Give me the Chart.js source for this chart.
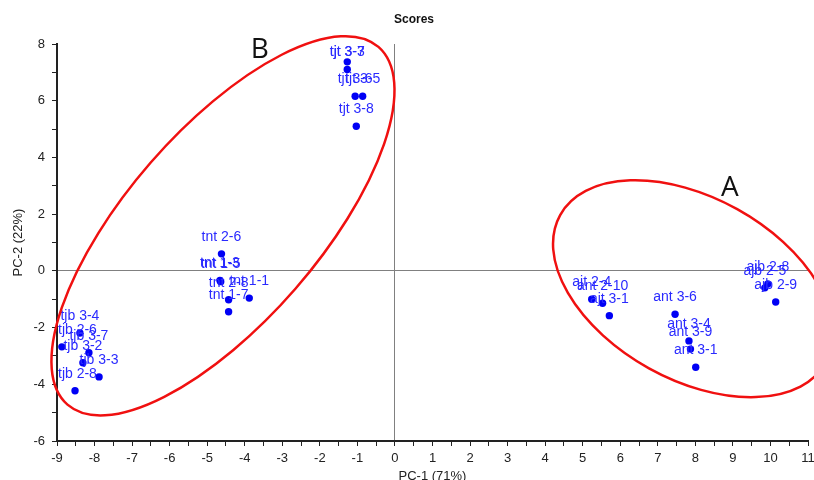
<!DOCTYPE html>
<html lang="pt-BR">
<head>
<meta charset="utf-8">
<title>Scores</title>
<script src="https://cdn.jsdelivr.net/npm/chart.js@4.4.1/dist/chart.umd.min.js"></script>
<style>
  html, body { margin: 0; padding: 0; background: #fff; overflow: hidden; width: 814px; height: 480px; }
  canvas { display: block; }
</style>
</head>
<body>
<canvas id="graficoScores" width="830" height="490"></canvas>
<script>
// amostras e scores (PC-1, PC-2)
const nomesTjt = ['tjt 3-3', 'tjt 3-7', 'tjt 3-6', 'tjt 3-5', 'tjt 3-8'];
const pc1Tjt = [-1.27, -1.27, -1.06, -0.86, -1.03];
const pc2Tjt = [7.37, 7.10, 6.16, 6.16, 5.10];

const nomesTnt = ['tnt 2-6', 'tnt 1-3', 'tnt 1-5', 'tnt 2-8', 'tnt 1-1', 'tnt 1-7'];
const pc1Tnt = [-4.62, -4.66, -4.64, -4.43, -3.88, -4.43];
const pc2Tnt = [0.60, -0.34, -0.38, -1.02, -0.96, -1.44];

const nomesTjb = ['tjb 3-4', 'tjb 2-6', 'tjb 3-7', 'tjb 3-2', 'tjb 3-3', 'tjb 2-8'];
const pc1Tjb = [-8.39, -8.87, -8.15, -8.31, -7.88, -8.52];
const pc2Tjb = [-2.19, -2.68, -2.89, -3.24, -3.74, -4.23];

const nomesAnt = ['ajt 2-4', 'ant 2-10', 'ajt 3-1', 'ant 3-6', 'ant 3-4', 'ant 3-9', 'ant 3-1'];
const pc1Ant = [5.24, 5.53, 5.71, 7.46, 7.83, 7.87, 8.01];
const pc2Ant = [-1.00, -1.14, -1.58, -1.53, -2.47, -2.76, -3.40];

const nomesAjb = ['ajb 2-8', 'ajb 2-5', 'ajb 2-9'];
const pc1Ajb = [9.93, 9.85, 10.14];
const pc2Ajb = [-0.46, -0.60, -1.10];

const ticksX = [-9, -8, -7, -6, -5, -4, -3, -2, -1, 0, 1, 2, 3, 4, 5, 6, 7, 8, 9, 10, 11];
const ticksY = [-6, -4, -2, 0, 2, 4, 6, 8];

// grupos marcados a mao na figura original
const elipses = [
  { cx: -4.58, cy: 1.59, rx: 237, ry: 96, angulo: -49 },
  { cx: 7.94, cy: -0.63, rx: 152, ry: 91, angulo: 29 }
];
const letras = [
  { texto: 'B', x: -3.6, y: 7.8 },
  { texto: 'A', x: 8.92, y: 2.92 }
];

const FONTE = '"Liberation Sans", Arial, sans-serif';
Chart.defaults.font.family = FONTE;
Chart.defaults.color = '#222';

function pontos(pc1, pc2) {
  return pc1.map((x, i) => ({ x, y: pc2[i] }));
}

function serie(nomes, pc1, pc2) {
  return {
    data: pontos(pc1, pc2),
    nomes,
    backgroundColor: '#0000f5',
    borderWidth: 0,
    pointRadius: 3.7,
    pointHoverRadius: 3.7
  };
}

const rotulos = {
  id: 'rotulos',
  afterDatasetsDraw(chart) {
    const { ctx, chartArea, scales } = chart;
    ctx.save();

    // nomes das amostras acima de cada ponto
    ctx.font = '14px ' + FONTE;
    ctx.fillStyle = '#2a2aff';
    ctx.textBaseline = 'middle';
    chart.data.datasets.forEach((ds, i) => {
      chart.getDatasetMeta(i).data.forEach((pt, j) => {
        const txt = ds.nomes[j];
        const w = ctx.measureText(txt).width;
        const x = Math.max(chartArea.left + 1, Math.min(pt.x - w / 2, chartArea.right - w));
        const y = Math.max(pt.y - 17, chartArea.top + 8);
        ctx.fillText(txt, x, y);
      });
    });

    // elipses vermelhas
    ctx.strokeStyle = '#f01010';
    ctx.lineWidth = 2.5;
    elipses.forEach((e) => {
      ctx.beginPath();
      ctx.ellipse(scales.x.getPixelForValue(e.cx), scales.y.getPixelForValue(e.cy),
        e.rx, e.ry, e.angulo * Math.PI / 180, 0, Math.PI * 2);
      ctx.stroke();
    });

    ctx.font = '28px "Open Sans", ' + FONTE;
    ctx.fillStyle = '#111';
    ctx.textAlign = 'center';
    letras.forEach((l) => {
      ctx.fillText(l.texto, scales.x.getPixelForValue(l.x), scales.y.getPixelForValue(l.y));
    });
    ctx.restore();
  }
};

function linhaZero(c) {
  return c.tick && c.tick.value === 0 ? '#808080' : 'transparent';
}

new Chart(document.getElementById('graficoScores'), {
  type: 'scatter',
  data: {
    datasets: [
      serie(nomesTjt, pc1Tjt, pc2Tjt),
      serie(nomesTnt, pc1Tnt, pc2Tnt),
      serie(nomesTjb, pc1Tjb, pc2Tjb),
      serie(nomesAnt, pc1Ant, pc2Ant),
      serie(nomesAjb, pc1Ajb, pc2Ajb)
    ]
  },
  options: {
    responsive: false,
    animation: false,
    events: [],
    layout: { padding: { left: 20, right: 22, top: 0, bottom: 0 } },
    plugins: {
      legend: { display: false },
      tooltip: { enabled: false },
      title: {
        display: true,
        text: 'Scores',
        color: '#111',
        font: { size: 12, weight: 'bold' },
        padding: { top: 12.8, bottom: 16.8 }
      }
    },
    scales: {
      x: {
        type: 'linear',
        min: ticksX[0],
        max: ticksX[ticksX.length - 1],
        afterFit: (escala) => { escala.height = 49; },
        ticks: {
          stepSize: 0.5,
          autoSkip: false,
          maxRotation: 0,
          padding: 5,
          font: { size: 13 },
          callback: (v) => (ticksX.includes(v) ? String(v) : '')
        },
        grid: { color: linhaZero, lineWidth: 1, tickLength: 5, tickColor: '#222', tickWidth: 1 },
        border: { color: '#222', width: 2 },
        title: { display: true, text: 'PC-1 (71%)', font: { size: 13 }, padding: { top: 0, bottom: 6 } }
      },
      y: {
        type: 'linear',
        min: ticksY[0],
        max: ticksY[ticksY.length - 1],
        afterFit: (escala) => { escala.width = 37; },
        ticks: {
          stepSize: 1,
          autoSkip: false,
          padding: 7,
          font: { size: 13 },
          callback: (v) => (ticksY.includes(v) ? String(v) : '')
        },
        grid: { color: linhaZero, lineWidth: 1, tickLength: 5, tickColor: '#222', tickWidth: 1 },
        border: { color: '#222', width: 2 },
        title: { display: true, text: 'PC-2 (22%)', font: { size: 13 }, padding: { top: -9, bottom: 0 } }
      }
    }
  },
  plugins: [rotulos]
});
</script>
</body>
</html>
